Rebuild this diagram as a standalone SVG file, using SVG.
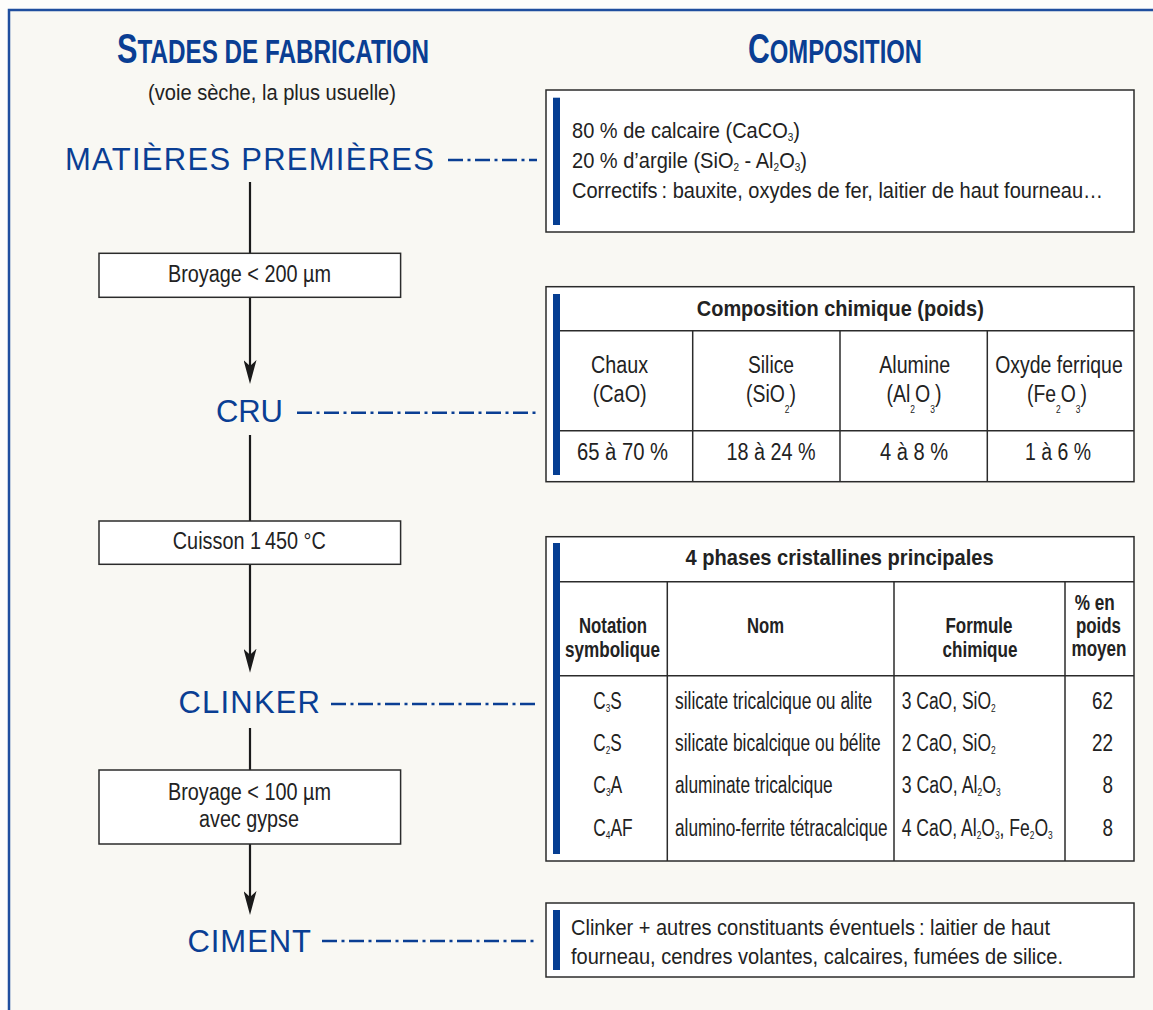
<svg xmlns="http://www.w3.org/2000/svg" width="1153" height="1010" viewBox="0 0 1153 1010">
<style>
.t{font-family:"Liberation Sans",Arial,sans-serif;fill:#222}
.b{font-weight:bold}
.h{font-family:"Liberation Sans",Arial,sans-serif;font-weight:bold;fill:#0a3e93;font-size:34px}
.stage{font-family:"Liberation Sans",Arial,sans-serif;font-size:31px;fill:#0a3e93}
.f24{font-size:23px}
.f22{font-size:22px}
.box{fill:#fff;stroke:#2b2b2b;stroke-width:1.5}
.bar{fill:#063e92}
.grid{stroke:#2b2b2b;stroke-width:1.5}
.flow{stroke:#1a1a1a;stroke-width:2.2;fill:none}
.dd{stroke:#0a3e93;stroke-width:2.4;fill:none;stroke-dasharray:15 4.5 3 4.5}
</style>
<defs>
<marker id="ah" viewBox="0 0 24 13" markerWidth="24" markerHeight="13" refX="12" refY="6.5" markerUnits="userSpaceOnUse" orient="auto">
<path d="M0,0 L24,6.5 L0,13 L6,6.5 Z" fill="#1a1a1a"/>
</marker>
</defs>
<rect x="0" y="0" width="1153" height="1010" fill="#fdfdfb"/>
<rect x="9" y="10" width="1160" height="1020" fill="#f9f8f3" stroke="#1f4e9e" stroke-width="2.5"/>

<g id="headings">
<text class="h" x="273" y="62.7" text-anchor="middle" textLength="312" lengthAdjust="spacingAndGlyphs"><tspan font-size="43">S</tspan>TADES DE FABRICATION</text>
<text class="h" x="835" y="62.7" text-anchor="middle" textLength="174" lengthAdjust="spacingAndGlyphs"><tspan font-size="43">C</tspan>OMPOSITION</text>
<text class="t f22" x="272" y="100" text-anchor="middle" textLength="248" lengthAdjust="spacingAndGlyphs">(voie sèche, la plus usuelle)</text>
</g>

<g id="connectors">
<line class="flow" x1="250" y1="182" x2="250" y2="253.3"/>
<line class="flow" x1="250" y1="297.3" x2="250" y2="372" marker-end="url(#ah)"/>
<line class="flow" x1="250" y1="435" x2="250" y2="521"/>
<line class="flow" x1="250" y1="564.3" x2="250" y2="660.7" marker-end="url(#ah)"/>
<line class="flow" x1="250" y1="728" x2="250" y2="770"/>
<line class="flow" x1="250" y1="844" x2="250" y2="903" marker-end="url(#ah)"/>
<line class="dd" x1="448" y1="160" x2="537" y2="160"/>
<line class="dd" x1="297" y1="412.7" x2="537" y2="412.7"/>
<line class="dd" x1="331" y1="704" x2="537" y2="704"/>
<line class="dd" x1="322" y1="941" x2="537" y2="941"/>
</g>

<g id="stage-matieres"><text class="stage" x="65" y="170" textLength="369" lengthAdjust="spacing">MATIÈRES PREMIÈRES</text></g>
<g id="stage-cru"><text class="stage" x="216" y="421.7" textLength="67" lengthAdjust="spacing">CRU</text></g>
<g id="stage-clinker"><text class="stage" x="178.5" y="712.7" textLength="141.5" lengthAdjust="spacing">CLINKER</text></g>
<g id="stage-ciment"><text class="stage" x="187.5" y="951.7" textLength="123.5" lengthAdjust="spacing">CIMENT</text></g>

<g id="step-broyage1">
<rect class="box" x="99" y="253.3" width="301.6" height="44"/>
<text class="t f24" x="249.5" y="281.7" text-anchor="middle" textLength="163" lengthAdjust="spacingAndGlyphs">Broyage &lt; 200 µm</text>
</g>
<g id="step-cuisson">
<rect class="box" x="99" y="521" width="301.6" height="43.3"/>
<text class="t f24" x="249.3" y="548.5" text-anchor="middle" textLength="153" lengthAdjust="spacingAndGlyphs">Cuisson 1&#8239;450 °C</text>
</g>
<g id="step-broyage2">
<rect class="box" x="99" y="770" width="301.6" height="74"/>
<text class="t f24" x="249.5" y="800" text-anchor="middle" textLength="163" lengthAdjust="spacingAndGlyphs">Broyage &lt; 100 µm</text>
<text class="t f24" x="249" y="826.7" text-anchor="middle" textLength="100" lengthAdjust="spacingAndGlyphs">avec gypse</text>
</g>

<g id="comp-matieres">
<rect class="box" x="546" y="90" width="588" height="142"/>
<rect class="bar" x="553" y="97.7" width="7" height="127.3"/>
<text class="t f22" x="572" y="137.7" textLength="228" lengthAdjust="spacingAndGlyphs">80 % de calcaire (CaCO<tspan font-size="11" dy="3">3</tspan><tspan dy="-3">)</tspan></text>
<text class="t f22" x="572" y="167.7" textLength="235" lengthAdjust="spacingAndGlyphs">20 % d’argile (SiO<tspan font-size="11" dy="3">2</tspan><tspan dy="-3"> - Al</tspan><tspan font-size="11" dy="3">2</tspan><tspan dy="-3">O</tspan><tspan font-size="11" dy="3">3</tspan><tspan dy="-3">)</tspan></text>
<text class="t f22" transform="translate(572 197.7) scale(0.91 1)" x="0" y="0">Correctifs&#8239;: bauxite, oxydes de fer, laitier de haut fourneau…</text>
</g>

<g id="comp-cru">
<rect class="box" x="546" y="286.7" width="588" height="195"/>
<rect class="bar" x="553" y="294" width="7" height="181"/>
<line class="grid" x1="560" y1="330.7" x2="1134" y2="330.7"/>
<line class="grid" x1="560" y1="430.7" x2="1134" y2="430.7"/>
<line class="grid" x1="692.7" y1="330.7" x2="692.7" y2="481.7"/>
<line class="grid" x1="840" y1="330.7" x2="840" y2="481.7"/>
<line class="grid" x1="987.3" y1="330.7" x2="987.3" y2="481.7"/>
<text class="t b f22" x="840.3" y="316" text-anchor="middle" textLength="287" lengthAdjust="spacingAndGlyphs">Composition chimique (poids)</text>
<text class="t f24" x="619.5" y="372.7" text-anchor="middle" textLength="57" lengthAdjust="spacingAndGlyphs">Chaux</text>
<text class="t f24" x="619.7" y="401.7" text-anchor="middle" textLength="54" lengthAdjust="spacingAndGlyphs">(CaO)</text>
<text class="t f24" x="771" y="372.7" text-anchor="middle" textLength="46" lengthAdjust="spacingAndGlyphs">Silice</text>
<text class="t f24" x="771" y="401.7" text-anchor="middle" textLength="50" lengthAdjust="spacingAndGlyphs">(SiO<tspan font-size="10" dy="11">2</tspan><tspan dy="-11">)</tspan></text>
<text class="t f24" x="914.7" y="372.7" text-anchor="middle" textLength="71" lengthAdjust="spacingAndGlyphs">Alumine</text>
<text class="t f24" x="914" y="401.7" text-anchor="middle" textLength="55" lengthAdjust="spacingAndGlyphs">(Al<tspan font-size="10" dy="11">2</tspan><tspan dy="-11">O</tspan><tspan font-size="10" dy="11">3</tspan><tspan dy="-11">)</tspan></text>
<text class="t f24" x="1059" y="372.7" text-anchor="middle" textLength="127.5" lengthAdjust="spacingAndGlyphs">Oxyde ferrique</text>
<text class="t f24" x="1057" y="401.7" text-anchor="middle" textLength="60" lengthAdjust="spacingAndGlyphs">(Fe<tspan font-size="10" dy="11">2</tspan><tspan dy="-11">O</tspan><tspan font-size="10" dy="11">3</tspan><tspan dy="-11">)</tspan></text>
<text class="t f24" x="622.5" y="460" text-anchor="middle" textLength="91" lengthAdjust="spacingAndGlyphs">65 à 70 %</text>
<text class="t f24" x="771" y="460" text-anchor="middle" textLength="89" lengthAdjust="spacingAndGlyphs">18 à 24 %</text>
<text class="t f24" x="914" y="460" text-anchor="middle" textLength="68" lengthAdjust="spacingAndGlyphs">4 à 8 %</text>
<text class="t f24" x="1058" y="460" text-anchor="middle" textLength="66" lengthAdjust="spacingAndGlyphs">1 à 6 %</text>
</g>

<g id="comp-clinker">
<rect class="box" x="546" y="536.7" width="588" height="324.3"/>
<rect class="bar" x="553" y="543" width="7" height="311"/>
<line class="grid" x1="560" y1="581.7" x2="1134" y2="581.7"/>
<line class="grid" x1="560" y1="675.7" x2="1134" y2="675.7"/>
<line class="grid" x1="667.3" y1="581.7" x2="667.3" y2="861"/>
<line class="grid" x1="894" y1="581.7" x2="894" y2="861"/>
<line class="grid" x1="1065" y1="581.7" x2="1065" y2="861"/>
<text class="t b f22" x="839.6" y="565" text-anchor="middle" textLength="308" lengthAdjust="spacingAndGlyphs">4 phases cristallines principales</text>
<text class="t b f22" x="613" y="632.7" text-anchor="middle" textLength="68" lengthAdjust="spacingAndGlyphs">Notation</text>
<text class="t b f22" x="612.5" y="656.7" text-anchor="middle" textLength="95" lengthAdjust="spacingAndGlyphs">symbolique</text>
<text class="t b f22" x="765.5" y="632.7" text-anchor="middle" textLength="37" lengthAdjust="spacingAndGlyphs">Nom</text>
<text class="t b f22" x="979" y="632.7" text-anchor="middle" textLength="67" lengthAdjust="spacingAndGlyphs">Formule</text>
<text class="t b f22" x="980" y="656.7" text-anchor="middle" textLength="75" lengthAdjust="spacingAndGlyphs">chimique</text>
<text class="t b f22" x="1094.7" y="610" text-anchor="middle" textLength="40" lengthAdjust="spacingAndGlyphs">% en</text>
<text class="t b f22" x="1098.4" y="633" text-anchor="middle" textLength="45" lengthAdjust="spacingAndGlyphs">poids</text>
<text class="t b f22" x="1099" y="656" text-anchor="middle" textLength="55" lengthAdjust="spacingAndGlyphs">moyen</text>

<text class="t f24" x="593.3" y="709.3" textLength="28.4" lengthAdjust="spacingAndGlyphs">C<tspan font-size="11" dy="3">3</tspan><tspan dy="-3">S</tspan></text>
<text class="t f24" x="593.3" y="750.7" textLength="28.4" lengthAdjust="spacingAndGlyphs">C<tspan font-size="11" dy="3">2</tspan><tspan dy="-3">S</tspan></text>
<text class="t f24" x="593.3" y="793.3" textLength="29" lengthAdjust="spacingAndGlyphs">C<tspan font-size="11" dy="3">3</tspan><tspan dy="-3">A</tspan></text>
<text class="t f24" x="593.3" y="836" textLength="39.4" lengthAdjust="spacingAndGlyphs">C<tspan font-size="11" dy="3">4</tspan><tspan dy="-3">AF</tspan></text>

<text class="t f24" x="675" y="709.3" textLength="197.3" lengthAdjust="spacingAndGlyphs">silicate tricalcique ou alite</text>
<text class="t f24" x="675" y="750.7" textLength="205.7" lengthAdjust="spacingAndGlyphs">silicate bicalcique ou bélite</text>
<text class="t f24" x="675" y="793.3" textLength="157.7" lengthAdjust="spacingAndGlyphs">aluminate tricalcique</text>
<text class="t f24" x="675" y="836" textLength="212.7" lengthAdjust="spacingAndGlyphs">alumino-ferrite tétracalcique</text>

<text class="t f24" x="901.7" y="709.3" textLength="94" lengthAdjust="spacingAndGlyphs">3 CaO, SiO<tspan font-size="11" dy="3">2</tspan></text>
<text class="t f24" x="901.7" y="750.7" textLength="94" lengthAdjust="spacingAndGlyphs">2 CaO, SiO<tspan font-size="11" dy="3">2</tspan></text>
<text class="t f24" x="901.7" y="793.3" textLength="99" lengthAdjust="spacingAndGlyphs">3 CaO, Al<tspan font-size="11" dy="3">2</tspan><tspan dy="-3">O</tspan><tspan font-size="11" dy="3">3</tspan></text>
<text class="t f24" x="901.7" y="836" textLength="151" lengthAdjust="spacingAndGlyphs">4 CaO, Al<tspan font-size="11" dy="3">2</tspan><tspan dy="-3">O</tspan><tspan font-size="11" dy="3">3</tspan><tspan dy="-3">, Fe</tspan><tspan font-size="11" dy="3">2</tspan><tspan dy="-3">O</tspan><tspan font-size="11" dy="3">3</tspan></text>

<text class="t f24" x="1113" y="709.3" text-anchor="end" textLength="21" lengthAdjust="spacingAndGlyphs">62</text>
<text class="t f24" x="1113" y="750.7" text-anchor="end" textLength="21" lengthAdjust="spacingAndGlyphs">22</text>
<text class="t f24" x="1113" y="793.3" text-anchor="end" textLength="10.5" lengthAdjust="spacingAndGlyphs">8</text>
<text class="t f24" x="1113" y="836" text-anchor="end" textLength="10.5" lengthAdjust="spacingAndGlyphs">8</text>
</g>

<g id="comp-ciment">
<rect class="box" x="546" y="903" width="588" height="74"/>
<rect class="bar" x="553" y="910" width="7" height="60"/>
<text class="t f22" x="571" y="935" textLength="479" lengthAdjust="spacingAndGlyphs">Clinker + autres constituants éventuels&#8239;: laitier de haut</text>
<text class="t f22" x="571" y="964" textLength="492" lengthAdjust="spacingAndGlyphs">fourneau, cendres volantes, calcaires, fumées de silice.</text>
</g>
</svg>
